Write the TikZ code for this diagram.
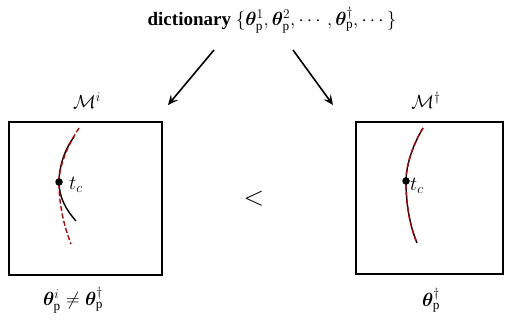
\RequirePackage{fix-cm}
\documentclass[tikz,border=0pt]{standalone}
\usepackage{amsmath,amssymb,bm}
\usepackage{fontspec}
\setmainfont{Liberation Serif}
\usetikzlibrary{arrows.meta}
\definecolor{dred}{RGB}{192,0,0}
\tikzset{
  panel/.style={draw=black, line width=1.2pt},
  flow/.style={line width=1.6pt, -{Stealth[length=10pt,width=9pt,inset=4pt]}},
  curveblack/.style={line width=1.4pt, black},
  curvered/.style={line width=1.4pt, dred, dash pattern=on 5pt off 2.5pt},
  dotc/.style={circle, fill=black, inner sep=0pt, minimum size=7.5pt},
  lbl/.style={inner sep=0pt}
}
\begin{document}
\begin{tikzpicture}[x=1pt,y=-1pt]
\useasboundingbox (0,0) rectangle (505,326);
% top text
\node[lbl, font=\fontsize{19}{22}\selectfont] (dict) at (272,20)
  {\textbf{dictionary} $\{\bm{\theta}_{\mathrm{p}}^{1},\bm{\theta}_{\mathrm{p}}^{2},\cdots,\bm{\theta}_{\mathrm{p}}^{\dagger},\cdots\}$};
\coordinate (a1s) at (214,50);
\coordinate (a1e) at (168,105);
\coordinate (a2s) at (293,50);
\coordinate (a2e) at (333,105);
\draw[flow] (a1s) -- (a1e);
\draw[flow] (a2s) -- (a2e);
% panels
\node[panel, minimum width=153pt, minimum height=153pt, inner sep=0pt] (boxL) at (85.5,198.5) {};
\node[panel, minimum width=147pt, minimum height=152pt, inner sep=0pt] (boxR) at (429.5,198) {};
\node[lbl, font=\fontsize{19}{22}\selectfont] (ML) at (87,101) {$\mathcal{M}^{i}$};
\node[lbl, font=\fontsize{19}{22}\selectfont] (MR) at (426,100) {$\mathcal{M}^{\dagger}$};
% left curves
\draw[curveblack] (74,137) .. controls (64,150) and (59,168) .. (59,182) .. controls (59,197) and (66,210) .. (76,221);
\draw[curvered] (79,128) .. controls (66,148) and (59,168) .. (59,182) .. controls (59,205) and (64,226) .. (71,244);
\node[dotc] (dL) at (59,182) {};
\node[lbl, font=\fontsize{20}{22}\selectfont, anchor=west] (tL) at (69,185) {$t_c$};
% right curves
\draw[curveblack] (423,128) .. controls (411,148) and (406,168) .. (406,181) .. controls (406,205) and (410,226) .. (417,243);
\draw[curvered] (423,128) .. controls (411,148) and (406,168) .. (406,181) .. controls (406,205) and (410,226) .. (417,243);
\node[dotc] (dR) at (406,181) {};
\node[lbl, font=\fontsize{20}{22}\selectfont, anchor=west] (tR) at (410,186) {$t_c$};
% less-than
\node[lbl, font=\fontsize{27}{30}\selectfont] (lt) at (254,199) {$<$};
% bottom labels
\node[lbl, font=\fontsize{19}{22}\selectfont] (bL) at (73,300) {$\bm{\theta}_{\mathrm{p}}^{i}\neq\bm{\theta}_{\mathrm{p}}^{\dagger}$};
\node[lbl, font=\fontsize{19}{22}\selectfont] (bR) at (431,300) {$\bm{\theta}_{\mathrm{p}}^{\dagger}$};
\end{tikzpicture}
\end{document}
